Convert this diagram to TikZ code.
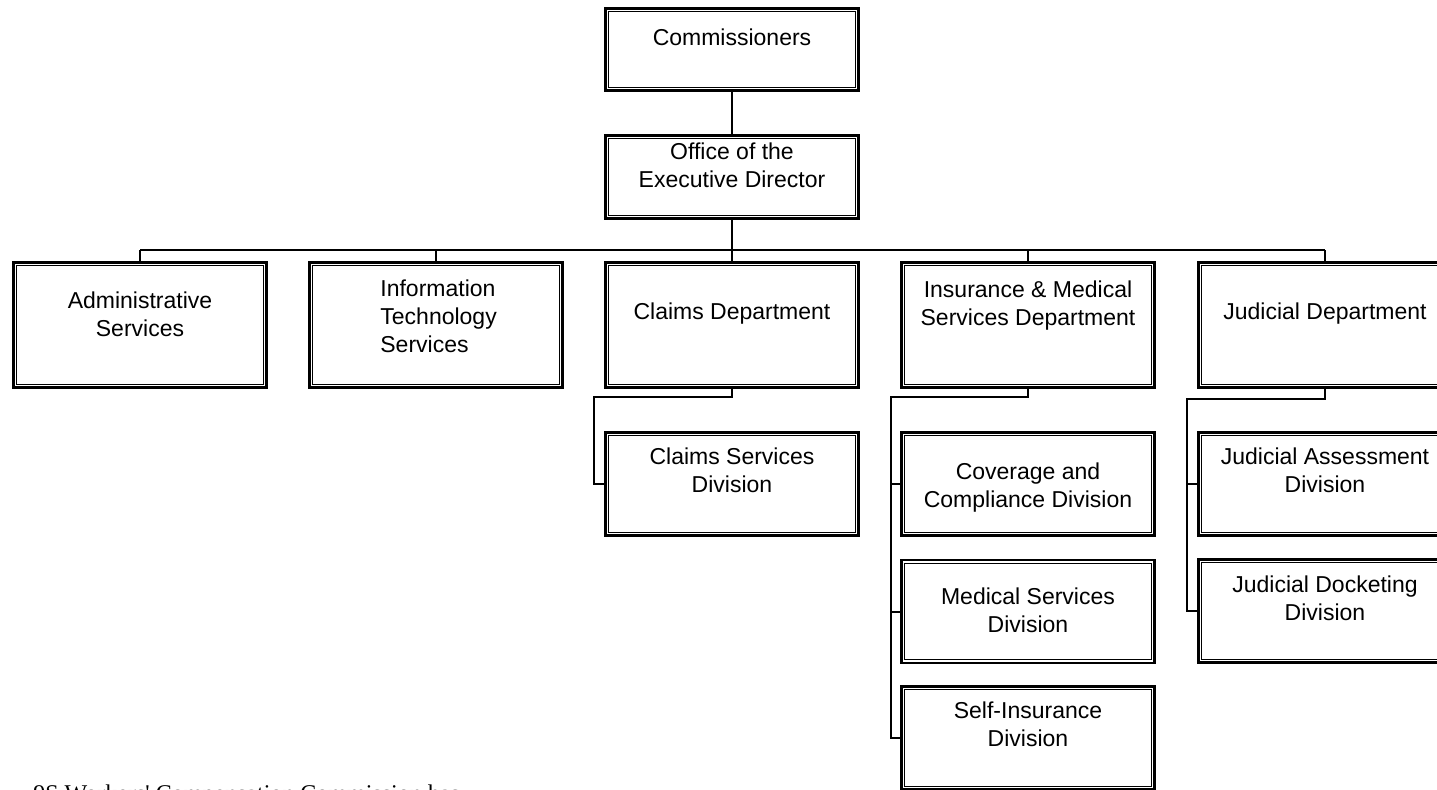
\documentclass[tikz,border=0pt]{standalone}
\usepackage{fontspec}
\setmainfont{Liberation Sans}
\newfontfamily\capfont{Liberation Serif}
\begin{document}
\begin{tikzpicture}[x=0.5pt,y=-0.5pt,
  obox/.style={draw, line width=1.4pt, fill=white, inner sep=0pt, minimum width=126.6pt, minimum height=#1},
  innerline/.style={line width=0.6pt},
  lbl/.style={font=\fontsize{11.5}{14}\selectfont, align=center, inner sep=0pt, anchor=north},
  conn/.style={line width=1pt}]
\clip (0,0) rectangle (1437,789);
\fill[white] (0,0) rectangle (1437,789);
% boxes
\node[obox=41pt] (com) at (732,49.5) {};
\node[obox=41.5pt] (oed) at (732,177) {};
\node[obox=62.5pt] (adm) at (140,325) {};
\node[obox=62.5pt] (its) at (436,325) {};
\node[obox=62.5pt] (clm) at (732,325) {};
\node[obox=62.5pt] (ims) at (1028,325) {};
\node[obox=62.5pt] (jud) at (1325,325) {};
\node[obox=51.5pt] (csd) at (732,484) {};
\node[obox=51.5pt] (cov) at (1028,484) {};
\node[obox=51.5pt] (med) at (1028,611.5) {};
\node[obox=51.5pt] (sel) at (1028,738) {};
\node[obox=51.5pt] (jas) at (1325,484) {};
\node[obox=51.5pt] (jdk) at (1325,611) {};
\foreach \n in {com,oed,adm,its,clm,ims,jud,csd,cov,med,sel,jas,jdk}
  \draw[innerline] ([shift={(2.3pt,2.3pt)}]\n.south west) rectangle ([shift={(-2.3pt,-2.3pt)}]\n.north east);
% texts
\node[lbl] (comT) at (732,28) {Commissioners};
\node[lbl] (oedT) at (732,142) {Office of the\\Executive Director};
\node[lbl] (admT) at (140,291) {Administrative\\Services};
\node[lbl, align=left, anchor=north west] (itsT) at (380,279) {Information\\Technology\\Services};
\node[lbl] (clmT) at (732,302) {Claims Department};
\node[lbl] (imsT) at (1028,280) {Insurance \& Medical\\Services Department};
\node[lbl] (judT) at (1325,302) {Judicial Department};
\node[lbl] (csdT) at (732,447) {Claims Services\\Division};
\node[lbl] (covT) at (1028,462) {Coverage and\\Compliance Division};
\node[lbl] (medT) at (1028,587) {Medical Services\\Division};
\node[lbl] (selT) at (1028,701) {Self-Insurance\\Division};
\node[lbl] (jasT) at (1325,447) {Judicial Assessment\\Division};
\node[lbl] (jdkT) at (1325,575) {Judicial Docketing\\Division};
% connectors
\coordinate (busL) at (140,250);
\coordinate (busR) at (1325,250);
\draw[conn] (com.south) -- (oed.north);
\draw[conn] (busL) -- (busR);
\draw[conn] (oed.south) -- (oed.south |- busL);
\foreach \n in {adm,its,clm,ims,jud}
  \draw[conn] (\n.north) -- (\n.north |- busL);
\coordinate (clmS) at (594,397);
\coordinate (imsS) at (891,397);
\coordinate (judS) at (1187,399);
\draw[conn] (clm.south) |- (clmS) |- (csd.west);
\draw[conn] (ims.south) |- (imsS) |- (sel.west);
\draw[conn] (imsS) |- (cov.west);
\draw[conn] (imsS) |- (med.west);
\draw[conn] (jud.south) |- (judS) |- (jdk.west);
\draw[conn] (judS) |- (jas.west);
% caption, cut off by the lower edge as in the reference
\node[font=\capfont\fontsize{12}{14}\selectfont, inner sep=0pt, anchor=north west] (cap) at (33,784) {9S Workers' Compensation Commission has};
\end{tikzpicture}
\end{document}
